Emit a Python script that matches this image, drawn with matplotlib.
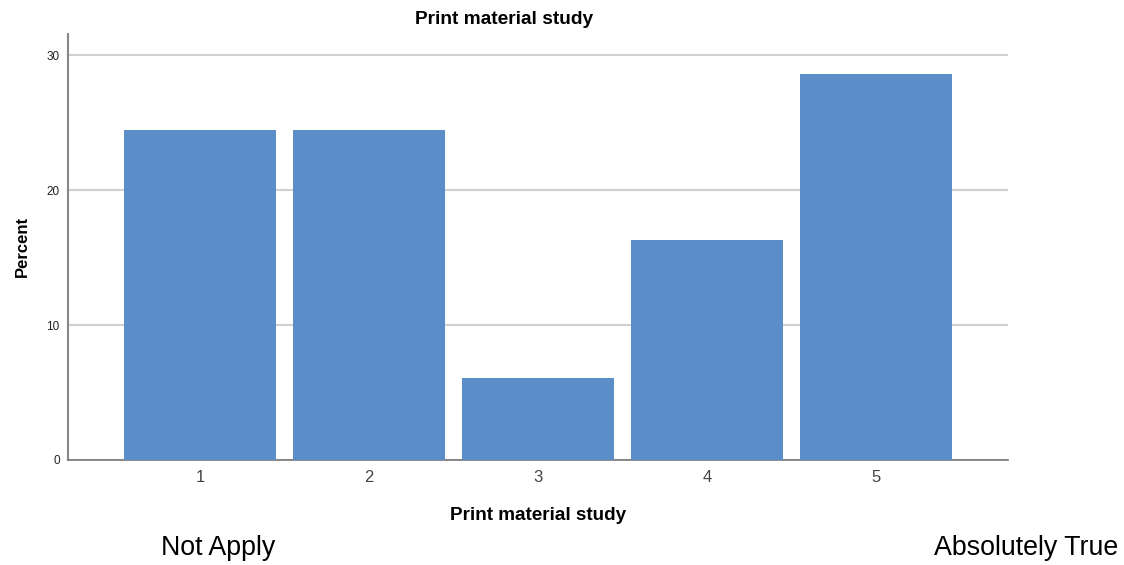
import matplotlib
matplotlib.use('Agg')
from matplotlib import pyplot as plt

categories = ['1', '2', '3', '4', '5']
percent = [24.5, 24.5, 6.1, 16.3, 28.6]
yticks = [0, 10, 20, 30]

plt.rcParams['font.family'] = ['Liberation Sans', 'DejaVu Sans']

fig = plt.figure(figsize=(11.24, 5.65), dpi=100)
ax = fig.add_axes([0.0605, 0.186, 0.8365, 0.754])

pos = range(1, len(categories) + 1)
ax.bar(pos, percent, width=0.9, color='#5b8ec9', zorder=3)

ax.set_xlim(0.22, 5.78)
ax.set_ylim(0, 31.6)
ax.set_xticks(list(pos))
ax.set_xticklabels(categories, fontsize=12, color='#444444')
ax.set_yticks(yticks)
ax.set_yticklabels([str(t) for t in yticks], fontsize=8.5, color='#222222')
ax.tick_params(length=0, pad=7)
ax.tick_params(axis='y', pad=6)
ax.grid(axis='y', color='#d0d0d0', linewidth=1.5, zorder=0)

for s in ['top', 'right']:
    ax.spines[s].set_visible(False)
ax.spines['left'].set_color('#888888')
ax.spines['left'].set_linewidth(1.5)
ax.spines['bottom'].set_color('#777777')
ax.spines['bottom'].set_linewidth(1.2)

# title sits a bit left of the axes centre in the original
fig.text(504/1124, 1 - 20/565, 'Print material study', fontsize=13.8,
         fontweight='bold', ha='center', va='center')
ax.set_xlabel('Print material study', fontsize=13.6, fontweight='bold', labelpad=16)
ax.set_ylabel('Percent', fontsize=12, fontweight='bold', labelpad=12)

fig.text(218/1124, 1 - 548/565, 'Not Apply', fontsize=19.3, ha='center', va='center')
fig.text(1118/1124, 1 - 548/565, 'Absolutely True', fontsize=19.3, ha='right', va='center')

fig.savefig('out.png', dpi=100)
